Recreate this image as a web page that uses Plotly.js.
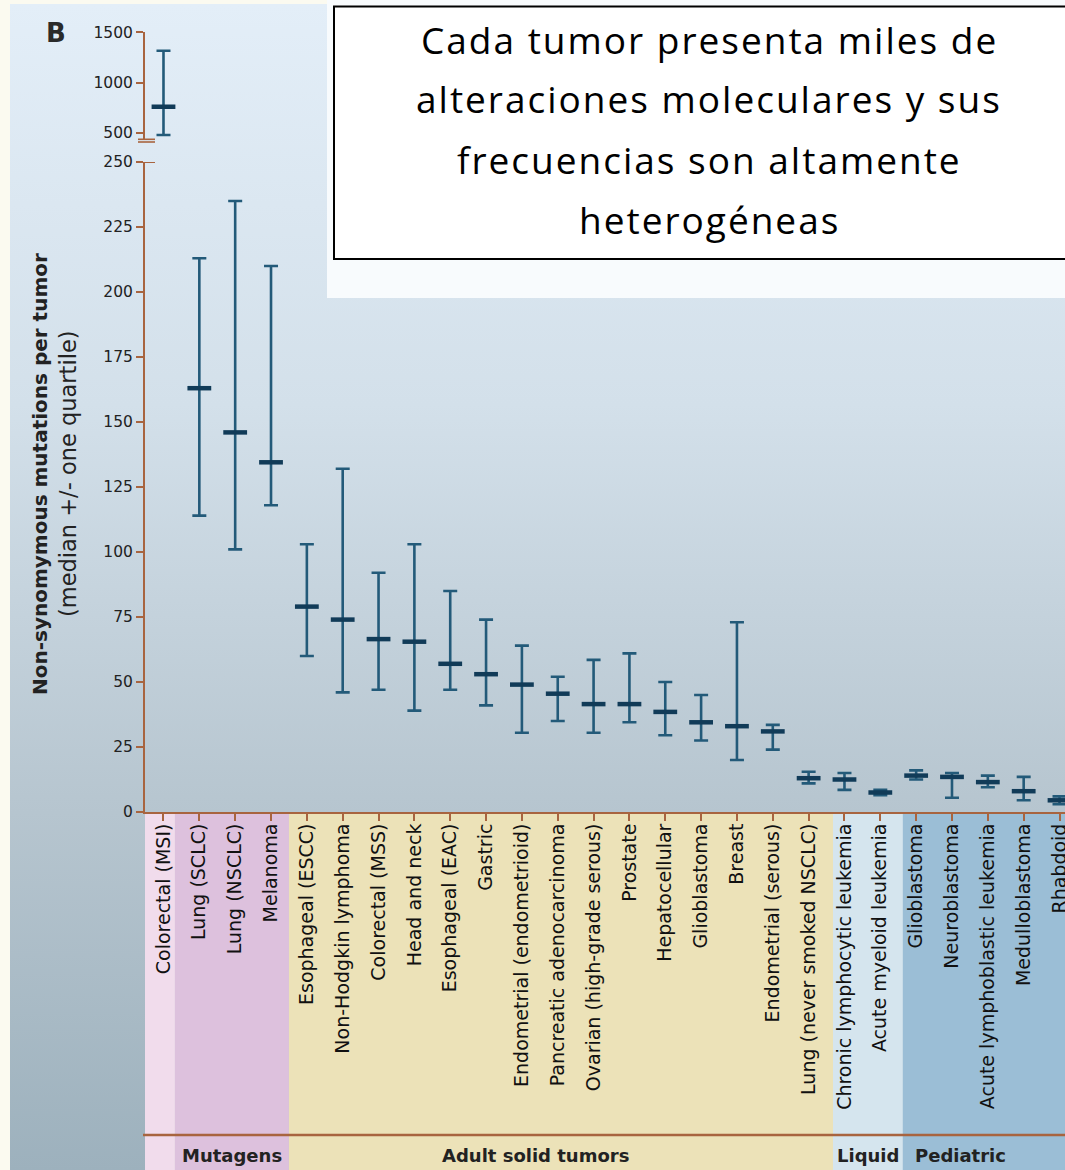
<!DOCTYPE html>
<html>
<head>
<meta charset="utf-8">
<script src="https://cdn.plot.ly/plotly-3.0.1.min.js"></script>
<style>
  html, body { margin: 0; padding: 0; background: #fbfaf0; }
  #bg { position: absolute; left: 10px; top: 4px; width: 1055px; height: 1166px;
        background: linear-gradient(to bottom, #e3eef8 0px, #d3e0ea 400px, #b6c5cf 808px, #9db1bd 1166px); }
  #chart { position: absolute; left: 0; top: 0; width: 1065px; height: 1170px; }
  text.annotation-text[style*="Open Sans"] { letter-spacing: 2px; }
</style>
</head>
<body>
<div id="bg"></div>
<div id="chart"></div>
<script>
// ---- data ----
const categories = [
  'Colorectal (MSI)', 'Lung (SCLC)', 'Lung (NSCLC)', 'Melanoma',
  'Esophageal (ESCC)', 'Non-Hodgkin lymphoma', 'Colorectal (MSS)', 'Head and neck',
  'Esophageal (EAC)', 'Gastric', 'Endometrial (endometrioid)', 'Pancreatic adenocarcinoma',
  'Ovarian (high-grade serous)', 'Prostate', 'Hepatocellular', 'Glioblastoma',
  'Breast', 'Endometrial (serous)', 'Lung (never smoked NSCLC)',
  'Chronic lymphocytic leukemia', 'Acute myeloid leukemia',
  'Glioblastoma', 'Neuroblastoma', 'Acute lymphoblastic leukemia', 'Medulloblastoma', 'Rhabdoid'
];
const medians = [761, 163, 146, 134.5, 79, 74, 66.5, 65.5, 57, 53, 49, 45.5, 41.5, 41.5, 38.5, 34.5, 33, 31, 13, 12.5, 7.5, 14, 13.5, 11.5, 8, 4.5];
const upperQuartile = [1317, 213, 235, 210, 103, 132, 92, 103, 85, 74, 64, 52, 58.5, 61, 50, 45, 73, 33.5, 15.5, 15, 8.5, 16, 15, 14, 13.5, 6];
const lowerQuartile = [480, 114, 101, 118, 60, 46, 47, 39, 47, 41, 30.5, 35, 30.5, 34.5, 29.5, 27.5, 20, 24, 11, 8.5, 6.5, 12.5, 5.5, 9.5, 4.5, 3];
const groupNames = ['Mutagens', 'Adult solid tumors', 'Liquid', 'Pediatric'];
const lowerTicks = [0, 25, 50, 75, 100, 125, 150, 175, 200, 225, 250];
const upperTicks = [500, 1000, 1500];
const yTitle = 'Non-synomymous mutations per tumor';
const ySubtitle = '(median +/- one quartile)';
const panelLabel = 'B';
const boxLines = ['Cada tumor presenta miles de', 'alteraciones moleculares y sus', 'frecuencias son altamente', 'heterogéneas'];

// ---- styling ----
const BROWN = '#a8643f';
const BAR = '#235a79';
const MED = '#113b58';
const W = 1065, H = 1170;
const M = {l: 145, r: 0, t: 20, b: 358};
const PW = W - M.l - M.r, PH = H - M.t - M.b;
const px = x => (x - M.l) / PW;          // pixel -> paper x
const py = y => (H - M.b - y) / PH;      // pixel -> paper y

const xs = categories.map((_, i) => i + 1);
function errTrace(idx, yaxis) {
  return {
    type: 'scatter', mode: 'markers',
    x: idx.map(i => xs[i]), y: idx.map(i => medians[i]), yaxis: yaxis,
    marker: {symbol: 'line-ew', size: 17, color: MED, line: {color: MED, width: 4.5}},
    error_y: {
      type: 'data', symmetric: false,
      array: idx.map(i => upperQuartile[i] - medians[i]),
      arrayminus: idx.map(i => medians[i] - lowerQuartile[i]),
      color: BAR, thickness: 2.6, width: 7
    },
    hoverinfo: 'skip'
  };
}
const upperIdx = [0];
const lowerIdx = xs.slice(1).map(x => x - 1);
const data = [errTrace(upperIdx, 'y2'), errTrace(lowerIdx, 'y')];

const tickFontY = {family: 'DejaVu Sans', size: 15.5, color: '#222'};
const axisCommon = {
  ticks: 'outside', ticklen: 7, tickwidth: 2, tickcolor: BROWN,
  showline: true, linecolor: BROWN, linewidth: 2,
  showgrid: false, zeroline: false, fixedrange: true
};

// band boundaries between category groups (in category units)
const bandEdges = [0.484, 1.32, 4.5, 19.68, 21.63, 26.153];
const bandColors = ['#f1dcec', '#ddc1dd', '#ece2b8', '#d5e5ee', '#9bbed6'];
const shapes = [];
for (let i = 0; i < bandColors.length; i++) {
  shapes.push({type: 'rect', xref: 'x', yref: 'paper', x0: bandEdges[i], x1: bandEdges[i + 1],
    y0: py(H), y1: 0, fillcolor: bandColors[i], line: {width: 0}, layer: 'below'});
}
// separator line above group labels
shapes.push({type: 'line', xref: 'paper', yref: 'paper', x0: px(143), x1: 1, y0: py(1135), y1: py(1135),
  line: {color: BROWN, width: 2.5}});
// axis break marks
[139.3, 142].forEach(yy => shapes.push({type: 'line', xref: 'paper', yref: 'paper',
  x0: px(138), x1: px(155), y0: py(yy), y1: py(yy), line: {color: BROWN, width: 1.6}}));
// cap on top tick of lower axis
shapes.push({type: 'line', xref: 'paper', yref: 'y', x0: 0, x1: px(155), y0: 250, y1: 250,
  line: {color: BROWN, width: 2}});
// white area & text box
shapes.push({type: 'rect', xref: 'paper', yref: 'paper', x0: px(327), x1: 1.01, y0: py(298), y1: py(0),
  fillcolor: '#f8fbfd', line: {width: 0}, layer: 'above'});
shapes.push({type: 'rect', xref: 'paper', yref: 'paper', x0: px(334), x1: px(1075), y0: py(259), y1: py(6.5),
  fillcolor: '#ffffff', line: {color: '#000000', width: 2}, layer: 'above'});

const annotations = [];
annotations.push({text: '<b>' + panelLabel + '</b>', xref: 'paper', yref: 'paper', x: px(56), y: py(33),
  showarrow: false, xanchor: 'center', yanchor: 'middle', font: {family: 'DejaVu Sans', size: 26, color: '#2a2a2a'}});
annotations.push({text: '<b>' + yTitle + '</b>', xref: 'paper', yref: 'paper', x: px(40), y: py(474),
  textangle: -90, showarrow: false, xanchor: 'center', yanchor: 'middle',
  font: {family: 'DejaVu Sans', size: 20, color: '#222'}});
annotations.push({text: ySubtitle, xref: 'paper', yref: 'paper', x: px(68), y: py(474),
  textangle: -90, showarrow: false, xanchor: 'center', yanchor: 'middle',
  font: {family: 'DejaVu Sans', size: 22.5, color: '#222'}});
const groupX = [2.9, 11.37, 20.65, 23.23];
groupNames.forEach((g, i) => annotations.push({text: '<b>' + g + '</b>', xref: 'x', yref: 'paper',
  x: groupX[i], y: py(1155), showarrow: false, xanchor: 'center', yanchor: 'middle',
  font: {family: 'DejaVu Sans', size: 18, color: '#222'}}));
const lineY = [39.5, 99, 159, 219];
boxLines.forEach((t, i) => annotations.push({text: t, xref: 'paper', yref: 'paper',
  x: px(709), y: py(lineY[i]), showarrow: false, xanchor: 'center', yanchor: 'middle',
  font: {family: 'Open Sans', size: 37, color: '#000'}}));

const layout = {
  width: W, height: H, margin: {l: M.l, r: M.r, t: M.t, b: M.b, pad: 0},
  paper_bgcolor: 'rgba(0,0,0,0)', plot_bgcolor: 'rgba(0,0,0,0)',
  showlegend: false,
  xaxis: Object.assign({}, axisCommon, {
    range: [0.484, 26.153], tickmode: 'array', tickvals: xs, ticktext: categories,
    tickangle: -90, ticklabeloverflow: 'allow', ticklabelstandoff: -5,
    tickfont: {family: 'DejaVu Sans', size: 19, color: '#111'}
  }),
  yaxis: Object.assign({}, axisCommon, {
    domain: [0, py(162)], range: [0, 250], tickmode: 'array', tickvals: lowerTicks,
    ticktext: lowerTicks.map(String), tickfont: tickFontY
  }),
  yaxis2: Object.assign({}, axisCommon, {
    domain: [py(140), py(32.3)], range: [430.5, 1500], anchor: 'x', tickmode: 'array',
    tickvals: upperTicks, ticktext: upperTicks.map(String), tickfont: tickFontY
  }),
  shapes: shapes, annotations: annotations
};

Plotly.newPlot('chart', data, layout, {staticPlot: true, displayModeBar: false});
</script>
</body>
</html>
